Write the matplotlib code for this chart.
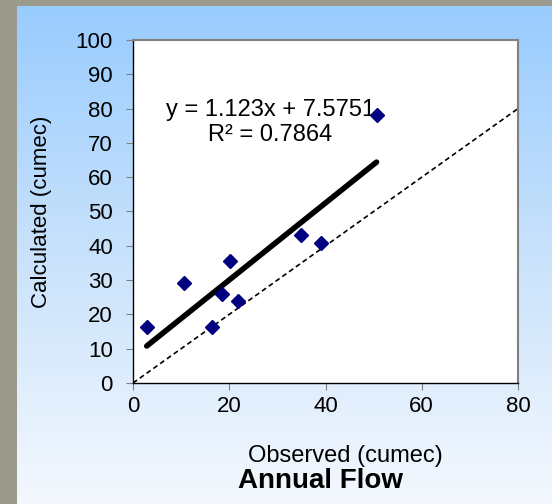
import numpy as np
import matplotlib
matplotlib.use('Agg')
import matplotlib.pyplot as plt
from matplotlib.colors import LinearSegmentedColormap

plt.rcParams['font.family'] = ['Liberation Sans', 'DejaVu Sans']

# observed vs calculated annual flow (cumec)
observed = [2.85, 10.6, 16.4, 18.4, 20.2, 21.8, 35.0, 39.0, 50.6]
calculated = [16.4, 29.1, 16.4, 25.9, 35.5, 24.0, 43.2, 40.7, 78.0]

# excel trendline
slope = 1.123
intercept = 7.5751
r_squared = 0.7864

x_ticks = [0, 20, 40, 60, 80]
y_ticks = [0, 10, 20, 30, 40, 50, 60, 70, 80, 90, 100]

fig = plt.figure(figsize=(5.52, 5.04), dpi=100)
fig.patch.set_facecolor('#9c9a8a')

# blue gradient panel behind the chart
bg = fig.add_axes([17 / 552, 0, 1 - 17 / 552, 1 - 6 / 504])
grad = LinearSegmentedColormap.from_list('panel', ['#99ccff', '#c9e2fb', '#f4f8fe'])
bg.imshow(np.linspace(0, 1, 256).reshape(-1, 1), aspect='auto', cmap=grad,
          extent=[0, 1, 0, 1], origin='upper')
bg.set_axis_off()

ax = fig.add_axes([133 / 552, 1 - 383 / 504, (518 - 133) / 552, (383 - 40) / 504])
ax.set_facecolor('white')

# 1:1 line
ax.plot([0, 80], [0, 80], color='black', linestyle=(0, (3, 2)), linewidth=1.2)

# trendline over the data range
xs = np.array([min(observed), max(observed)])
ax.plot(xs, slope * xs + intercept, color='black', linewidth=4, solid_capstyle='round')

ax.plot(observed, calculated, linestyle='none', marker='D', markersize=7,
        color='#000080', zorder=5)

ax.text(28.5, 76, f'y = {slope}x + {intercept}\nR² = {r_squared}', ha='center', va='center',
        fontsize=17, linespacing=1.15)

ax.set_xlim(0, 80)
ax.set_ylim(0, 100)
ax.set_xticks(x_ticks)
ax.set_yticks(y_ticks)
ax.tick_params(labelsize=16, length=5, color='#808080', direction='out')
ax.tick_params(axis='x', pad=4.5)
ax.tick_params(axis='y', pad=9.5)

for side in ['top', 'right']:
    ax.spines[side].set_color('#808080')
    ax.spines[side].set_linewidth(1.5)
for side in ['left', 'bottom']:
    ax.spines[side].set_color('black')
    ax.spines[side].set_linewidth(1.0)

fig.text(345 / 552, 1 - 456 / 504, 'Observed (cumec)', ha='center', va='center', fontsize=17)
fig.text(42 / 552, 1 - 212 / 504, 'Calculated (cumec)', ha='center', va='center',
         fontsize=16, rotation=90)
fig.text(321 / 552, 1 - 481 / 504, 'Annual Flow', ha='center', va='center',
         fontsize=20, fontweight='bold')

fig.savefig('out.png', dpi=100)
